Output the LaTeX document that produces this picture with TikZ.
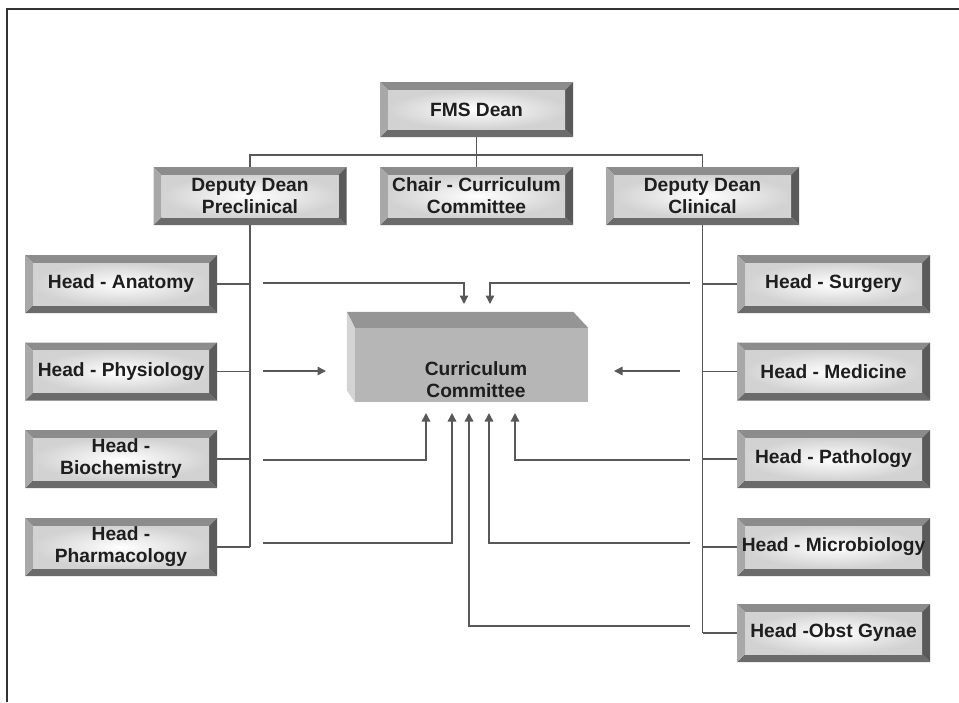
\documentclass[tikz,border=0pt]{standalone}
\usepackage{fontspec}
\newfontfamily\lsans{Liberation Sans}
\usetikzlibrary{arrows.meta,calc}
\definecolor{bvtop}{HTML}{8C8C8C}
\definecolor{bvleft}{HTML}{A8A8A8}
\definecolor{bvbot}{HTML}{6B6B6B}
\definecolor{bvright}{HTML}{5A5A5A}
\definecolor{txt}{HTML}{1E1E1E}
\definecolor{lnc}{HTML}{585858}
\definecolor{cctop}{HTML}{959595}
\definecolor{ccfront}{HTML}{B6B6B6}
\definecolor{ccleft}{HTML}{D4D4D4}
\begin{document}
\begin{tikzpicture}[x=1pt,y=-1pt,
  bev/.style={rectangle, minimum width=193pt, minimum height=58pt, inner sep=0pt,
    align=center, font=\lsans\bfseries\fontsize{19.2}{22}\selectfont, text=txt,
    path picture={
      \path (path picture bounding box.south west) coordinate (pSW)
            (path picture bounding box.north east) coordinate (pNE)
            (path picture bounding box.north west) coordinate (pNW)
            (path picture bounding box.south east) coordinate (pSE);
      \fill[bvtop] (pNW) -- (pNE) -- ([shift={(-8pt,-8pt)}]pNE) -- ([shift={(8pt,-8pt)}]pNW) -- cycle;
      \fill[bvbot] (pSW) -- (pSE) -- ([shift={(-8pt,8pt)}]pSE) -- ([shift={(8pt,8pt)}]pSW) -- cycle;
      \fill[bvleft] (pSW) -- (pNW) -- ([shift={(8pt,-8pt)}]pNW) -- ([shift={(8pt,8pt)}]pSW) -- cycle;
      \fill[bvright] (pSE) -- (pNE) -- ([shift={(-8pt,-8pt)}]pNE) -- ([shift={(-8pt,8pt)}]pSE) -- cycle;
      \shade[inner color=white, outer color=gray!35] ([shift={(8pt,8pt)}]pSW) rectangle ([shift={(-8pt,-8pt)}]pNE);
    }},
  conn/.style={draw=lnc, line width=1.6pt},
  arr/.style={draw=lnc, line width=1.5pt, -{Triangle[length=8.5pt,width=8.5pt]}},
  cctext/.style={font=\lsans\bfseries\fontsize{19.2}{22}\selectfont, text=txt, align=center, inner sep=0pt}
]
\useasboundingbox (0,0) rectangle (959,702);
% frame
\draw[line width=2pt, draw=black!80] (7,702) -- (7,9) -- (959,9);

% boxes
\node[bev, minimum height=55pt] (fms) at (476.5,109.5) {FMS Dean};
\node[bev] (ddp) at (250,196) {Deputy Dean\\Preclinical};
\node[bev] (chair) at (476.5,196) {Chair - Curriculum\\Committee};
\node[bev] (ddc) at (702.5,196) {Deputy Dean\\Clinical};

\node[bev, minimum width=192pt] (ana) at (121,284) {Head - Anatomy};
\node[bev, minimum width=192pt] (phy) at (121,371.5) {Head - Physiology};
\node[bev, minimum width=192pt] (bio) at (121,459) {Head -\\Biochemistry};
\node[bev, minimum width=192pt] (pha) at (121,547) {Head -\\Pharmacology};

\node[bev] (sur) at (833.5,284) {Head - Surgery};
\node[bev] (med) at (833.5,371.5) {Head - Medicine};
\node[bev] (pat) at (833.5,459) {Head - Pathology};
\node[bev] (mic) at (833.5,547) {Head - Microbiology};
\node[bev] (obs) at (833.5,633) {Head -Obst Gynae};

% org connectors
\draw[conn] (fms.south) -- (chair.north);
\draw[conn] (ddp.north) -- ++(0,-12) -| (ddc.north);
\draw[conn] (ddp.south) -- (ddp.south |- pha.east);
\foreach \n in {ana,phy,bio,pha} \draw[conn] (\n.east) -- (\n.east -| ddp.south);
\draw[conn] (ddc.south) -- (ddc.south |- obs.west);
\foreach \n in {sur,med,pat,mic,obs} \draw[conn] (\n.west) -- (\n.west -| ddc.south);

% curriculum committee 3D box
\node[minimum width=233pt, minimum height=74pt, inner sep=0pt, fill=ccfront] (cc) at (471.5,365) {};
\fill[cctop] ($(cc.north west)+(-8,-16)$) -- ($(cc.north east)+(-15,-16)$) -- (cc.north east) -- (cc.north west) -- cycle;
\fill[ccleft] ($(cc.north west)+(-8,-16)$) -- (cc.north west) -- (cc.south west) -- ($(cc.south west)+(-8,-12)$) -- cycle;
\node[cctext] (cct) at (476,380) {Curriculum\\Committee};

% arrow free ends
\coordinate (sA) at (263,283); \coordinate (tA) at (464,304);
\coordinate (sS) at (690,283); \coordinate (tS) at (490,304);
\coordinate (sP) at (263,371); \coordinate (tP) at (326,371);
\coordinate (sM) at (680,371); \coordinate (tM) at (614,371);
\coordinate (sB) at (263,460); \coordinate (tB) at (426,413);
\coordinate (sH) at (263,543); \coordinate (tH) at (452,413);
\coordinate (sO) at (690,626); \coordinate (tO) at (469,413);
\coordinate (sI) at (690,543); \coordinate (tI) at (489,413);
\coordinate (sT) at (690,460); \coordinate (tT) at (515,413);

\draw[arr] (sA) -| (tA);
\draw[arr] (sS) -| (tS);
\draw[arr] (sP) -- (tP);
\draw[arr] (sM) -- (tM);
\draw[arr] (sB) -| (tB);
\draw[arr] (sH) -| (tH);
\draw[arr] (sO) -| (tO);
\draw[arr] (sI) -| (tI);
\draw[arr] (sT) -| (tT);
\end{tikzpicture}
\end{document}
